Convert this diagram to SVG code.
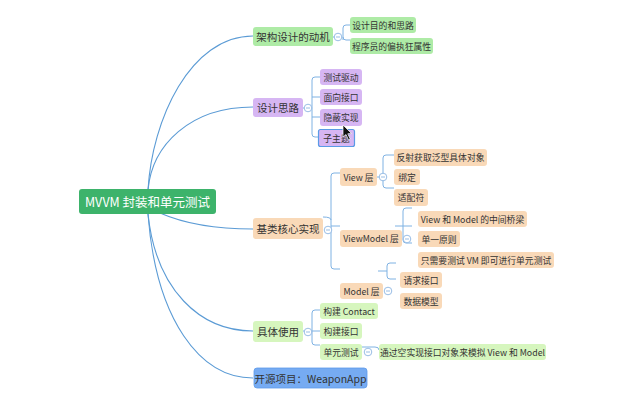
<svg xmlns="http://www.w3.org/2000/svg" width="640" height="400" viewBox="0 0 640 400">
<style>
.t{font-family:"Noto Sans CJK SC","Liberation Sans",sans-serif;fill:#333;text-anchor:middle;dominant-baseline:central}
.b{font-size:10.5px}
.c{font-size:8.8px}
.ln{fill:none;stroke:#5B9BD5;stroke-width:1.1}
.br{fill:none;stroke:#7FB2E3;stroke-width:1}
.tg{fill:#fff;stroke:#8DB6E2;stroke-width:0.9}
.tm{stroke:#8DB6E2;stroke-width:0.9}
.g1{fill:#AEEBA6}
.pu{fill:#D6B6F3}
.pe{fill:#F9D9B8}
.g2{fill:#D6F6BE}
</style>
<rect width="640" height="400" fill="#fff"/>
<g id="connectors">
<path class="ln" d="M148,190 C152,120 190,36 253,36"/>
<path class="ln" d="M148,190 C152,145 190,107 253,107"/>
<path class="ln" d="M160,213 C185,224 220,229 253,229"/>
<path class="ln" d="M148,214 C156,290 200,331 253,331"/>
<path class="ln" d="M148,214 C156,320 200,378 253,378"/>
<path class="br" d="M333,37 L338,37 M343,40 V28 Q343,25 346,25 H350 M343,37 Q343,40 346,40 H350"/>
<path class="br" d="M303,108 L312,108 M312,134 V80 Q312,77 315,77 H320 M312,97 H320 M312,117 H320 M312,134 Q312,137 315,137 H318"/>
<path class="br" d="M323,217 Q331,217 331,220 M331,176 V266 Q331,269 334,269 H340 M331,176 Q331,173 334,173 H340 M331,226 H340"/>
<path class="br" d="M377,177 H383 M383,158 V185 Q383,188 386,188 H394 M383,158 Q383,155 386,155 H394"/>
<path class="br" d="M403,211 V240 Q403,243 406,243 H412 M403,211 Q403,208 406,208 H412 M395,226 H412"/>
<path class="br" d="M387,266 V276 Q387,279 390,279 H396 M387,266 Q387,263 390,263 H396 M378,271 H387"/>
<path class="br" d="M303,331 H312 M312,313 V342 Q312,345 315,345 H320 M312,313 Q312,310 315,310 H320 M312,331 H320"/>
<path class="br" d="M362,347 H375 Q379,347 379,350"/>
</g>
<g id="root">
<rect x="79" y="189" width="137" height="25" rx="3" fill="#3DB36B"/>
<text class="t" x="147.5" y="201.5" style="font-size:12.5px;fill:#fff">MVVM 封装和单元测试</text>
</g>
<g id="n-jiagou">
<rect class="g1" x="253" y="27" width="80" height="19" rx="3"/>
<text class="t b" x="293" y="36.5">架构设计的动机</text>
<circle class="tg" cx="338" cy="37" r="3.8"/><line class="tm" x1="336" y1="37" x2="340" y2="37"/>
</g>
<g id="n-mudi"><rect class="g1" x="350" y="17" width="66" height="16" rx="3"/><text class="t c" x="383" y="25">设计目的和思路</text></g>
<g id="n-pianzhi"><rect class="g1" x="350" y="38" width="83" height="16" rx="3"/><text class="t c" x="391.5" y="46">程序员的偏执狂属性</text></g>
<g id="n-silu">
<rect class="pu" x="253" y="98" width="50" height="19" rx="3"/>
<text class="t b" x="278" y="107.5">设计思路</text>
<circle class="tg" cx="308" cy="108" r="3.8"/><line class="tm" x1="306" y1="108" x2="310" y2="108"/>
</g>
<g id="n-ceshi"><rect class="pu" x="320" y="69" width="42" height="16" rx="3"/><text class="t c" x="341" y="77">测试驱动</text></g>
<g id="n-mianxiang"><rect class="pu" x="320" y="89" width="42" height="16" rx="3"/><text class="t c" x="341" y="97">面向接口</text></g>
<g id="n-yinbi"><rect class="pu" x="320" y="109" width="42" height="17" rx="3"/><text class="t c" x="341" y="117.5">隐蔽实现</text></g>
<g id="n-zizhuti"><rect class="pu" x="318.5" y="129.5" width="36" height="17" rx="2" stroke="#5A9BE6" stroke-width="1.2"/><text class="t c" x="336.5" y="138">子主题</text></g>
<g id="n-jilei">
<rect class="pe" x="253" y="218" width="70" height="21" rx="3"/>
<text class="t b" x="288" y="228.5">基类核心实现</text>
<circle class="tg" cx="328" cy="230" r="3.8"/><line class="tm" x1="326" y1="230" x2="330" y2="230"/>
</g>
<g id="n-view">
<rect class="pe" x="340" y="168" width="37" height="18" rx="3"/>
<text class="t c" x="358.5" y="177">View 层</text>
<circle class="tg" cx="383" cy="177" r="3.8"/><line class="tm" x1="381" y1="177" x2="385" y2="177"/>
</g>
<g id="n-fanshe"><rect class="pe" x="394" y="149" width="93" height="17" rx="3"/><text class="t c" x="440.5" y="157.5">反射获取泛型具体对象</text></g>
<g id="n-bangding"><rect class="pe" x="394" y="169" width="26" height="16" rx="3"/><text class="t c" x="407" y="177">绑定</text></g>
<g id="n-shipei"><rect class="pe" x="394" y="189" width="34" height="17" rx="3"/><text class="t c" x="411" y="197.5">适配符</text></g>
<g id="n-viewmodel">
<rect class="pe" x="340" y="230" width="62" height="17" rx="3"/>
<text class="t c" x="371" y="238.5">ViewModel 层</text>
<circle class="tg" cx="407" cy="239" r="3.8"/><line class="tm" x1="405" y1="239" x2="409" y2="239"/>
</g>
<g id="n-qiaoliang"><rect class="pe" x="418" y="211" width="109" height="16" rx="3"/><text class="t c" x="472.5" y="219">View 和 Model 的中间桥梁</text></g>
<g id="n-danyi"><rect class="pe" x="418" y="231" width="42" height="16" rx="3"/><text class="t c" x="439" y="239">单一原则</text></g>
<g id="n-zhixu"><rect class="pe" x="418" y="252" width="136" height="16" rx="3"/><text class="t c" x="486" y="260">只需要测试 VM 即可进行单元测试</text></g>
<g id="n-model">
<rect class="pe" x="340" y="283" width="43" height="16" rx="3"/>
<text class="t c" x="361.5" y="291">Model 层</text>
<circle class="tg" cx="388" cy="291" r="3.8"/><line class="tm" x1="386" y1="291" x2="390" y2="291"/>
</g>
<g id="n-qingqiu"><rect class="pe" x="400" y="272" width="42" height="16" rx="3"/><text class="t c" x="421" y="280">请求接口</text></g>
<g id="n-shuju"><rect class="pe" x="400" y="293" width="42" height="16" rx="3"/><text class="t c" x="421" y="301">数据模型</text></g>
<g id="n-juti">
<rect class="g2" x="253" y="321" width="50" height="21" rx="3"/>
<text class="t b" x="278" y="331.5">具体使用</text>
<circle class="tg" cx="308" cy="332" r="3.8"/><line class="tm" x1="306" y1="332" x2="310" y2="332"/>
</g>
<g id="n-contact"><rect class="g2" x="320" y="303" width="58" height="16" rx="3"/><text class="t c" x="349" y="311">构建 Contact</text></g>
<g id="n-jiekou"><rect class="g2" x="320" y="323" width="42" height="16" rx="3"/><text class="t c" x="341" y="331">构建接口</text></g>
<g id="n-danyuan">
<rect class="g2" x="320" y="344" width="42" height="16" rx="3"/>
<text class="t c" x="341" y="352">单元测试</text>
<circle class="tg" cx="368" cy="352" r="3.8"/><line class="tm" x1="366" y1="352" x2="370" y2="352"/>
</g>
<g id="n-tongguo"><rect class="g2" x="379" y="344" width="167" height="16" rx="3"/><text class="t c" x="462.5" y="352">通过空实现接口对象来模拟 View 和 Model</text></g>
<g id="n-kaiyuan">
<rect x="254" y="368" width="113" height="20" rx="3" fill="#76ABF2" stroke="#5E9BEA" stroke-width="0.8"/>
<text class="t b" x="310.5" y="378">开源项目：WeaponApp</text>
</g>
<g id="cursor">
<path d="M343,125 L343,137 L346,134.5 L348.5,140 L350.3,139.2 L347.8,133.8 L351.5,133.5 Z" fill="#111" stroke="#fff" stroke-width="0.7"/>
</g>
</svg>
